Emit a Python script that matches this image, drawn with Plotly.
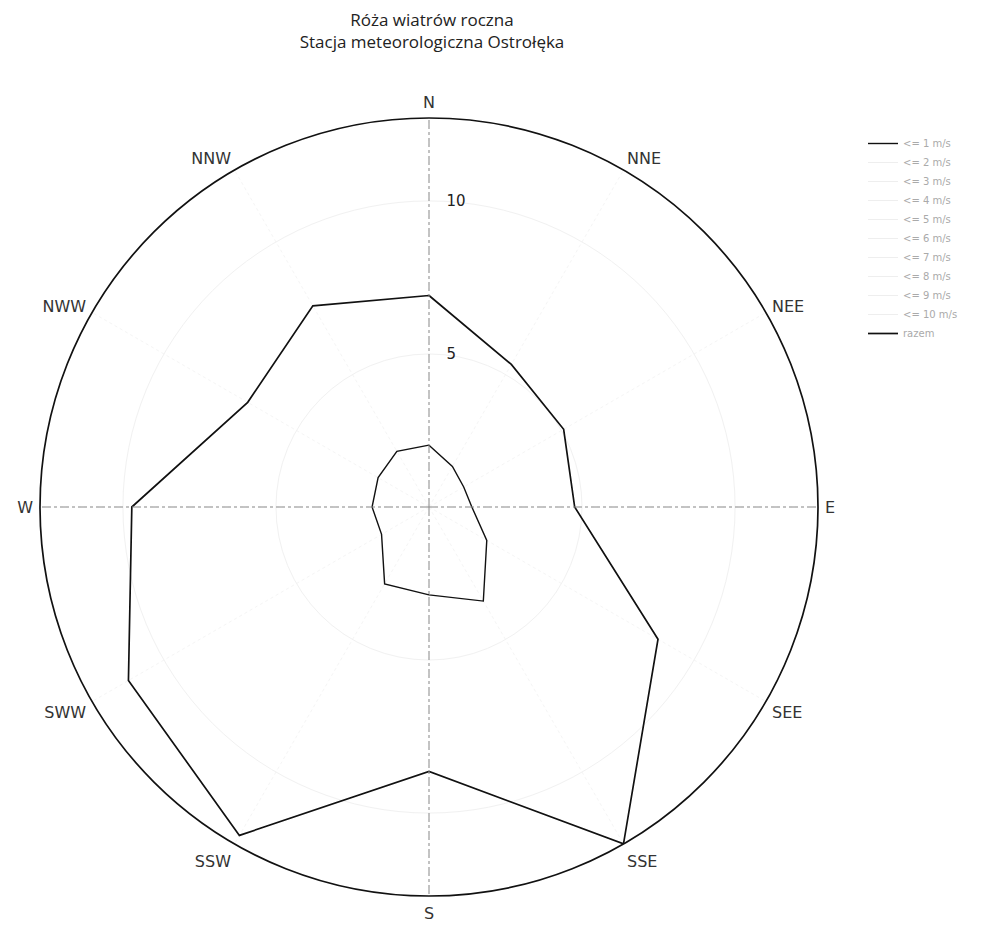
import plotly.graph_objects as go

# Directions (12 sectors, every 30 degrees)
directions = ["N", "NNE", "NEE", "E", "SEE", "SSE", "S", "SSW", "SWW", "W", "NWW", "NNW"]
angles = [0, 30, 60, 90, 120, 150, 180, 210, 240, 270, 300, 330]
cross_angles = [0, 90, 180, 270]

# Frequencies [%]
speed_le1 = [2.02, 1.53, 1.31, 1.40, 2.18, 3.55, 2.87, 2.90, 1.79, 1.86, 1.92, 2.10]
total = [6.91, 5.38, 5.08, 4.76, 8.64, 12.71, 8.64, 12.39, 11.34, 9.71, 6.84, 7.59]
# series not legible in the picture (washed-out colours): legend entries only
hidden = [None]

legend_names = ["<= 1 m/s", "<= 2 m/s", "<= 3 m/s", "<= 4 m/s", "<= 5 m/s",
                "<= 6 m/s", "<= 7 m/s", "<= 8 m/s", "<= 9 m/s", "<= 10 m/s", "razem"]

radial_ticks = [5, 10]
r_max = 12.71

OFF = 8  # page body margin in px


def closed(v):
    return list(v) + [v[0]]


fig = go.Figure()

fig.add_trace(go.Scatterpolar(r=closed(speed_le1), theta=closed(angles), mode="lines",
                              name=legend_names[0], line=dict(color="#111111", width=1.4)))
for nm in legend_names[1:-1]:
    fig.add_trace(go.Scatterpolar(r=hidden, theta=hidden, mode="lines", name=nm,
                                  line=dict(color="#eeeeee", width=1)))
fig.add_trace(go.Scatterpolar(r=closed(total), theta=closed(angles), mode="lines",
                              name=legend_names[-1], line=dict(color="#111111", width=1.7)))
fig.add_trace(go.Scatterpolar(r=hidden, theta=hidden, mode="lines", subplot="polar2",
                              showlegend=False, hoverinfo="skip"))

dom = dict(x=[(40 - OFF) / 998, (818 - OFF) / 998],
           y=[1 - (896 - OFF) / 925, 1 - (118 - OFF) / 925])

fig.update_layout(
    width=998, height=925,
    paper_bgcolor="white", plot_bgcolor="white",
    margin=dict(l=0, r=0, t=0, b=0),
    title=dict(text="Róża wiatrów roczna<br>Stacja meteorologiczna Ostrołęka",
               x=(432 - OFF) / 998, xref="container", xanchor="center",
               y=1 - 18 / 925, yref="container", yanchor="top",
               font=dict(family="Open Sans", size=17, color="#222222")),
    font=dict(family="DejaVu Sans"),
    polar=dict(
        domain=dom,
        bgcolor="white",
        angularaxis=dict(
            rotation=90, direction="clockwise",
            tickmode="array", tickvals=angles, ticktext=directions,
            showline=True, linecolor="#111111", linewidth=1.7,
            showgrid=True, gridcolor="#f5f5f5", griddash="dot", gridwidth=1,
            ticks="outside", ticklen=3, tickcolor="rgba(0,0,0,0)",
            tickfont=dict(family="DejaVu Sans", size=16, color="#333333"),
        ),
        radialaxis=dict(
            range=[0, r_max], tickmode="array", tickvals=radial_ticks,
            ticktext=[str(t) for t in radial_ticks],
            angle=90, tickangle=90, side="clockwise",
            showline=False, ticks="outside", ticklen=14, tickcolor="rgba(0,0,0,0)",
            showgrid=True, gridcolor="#f1f1f1", gridwidth=1,
            tickfont=dict(family="DejaVu Sans", size=15, color="#222222"),
        ),
    ),
    polar2=dict(
        domain=dom,
        bgcolor="rgba(0,0,0,0)",
        angularaxis=dict(
            rotation=90, direction="clockwise",
            tickmode="array", tickvals=cross_angles, showticklabels=False,
            ticks="", showline=False,
            showgrid=True, gridcolor="#8a8a8a", griddash="dashdot", gridwidth=1,
        ),
        radialaxis=dict(range=[0, r_max], visible=False, showgrid=False),
    ),
    legend=dict(x=855 / 998, xanchor="left", y=1 - 121 / 925, yanchor="top",
                font=dict(family="DejaVu Sans", size=10, color="#aaaaaa"),
                bgcolor="rgba(0,0,0,0)", itemwidth=30, tracegroupgap=0),
)

fig.write_html("out.html")
